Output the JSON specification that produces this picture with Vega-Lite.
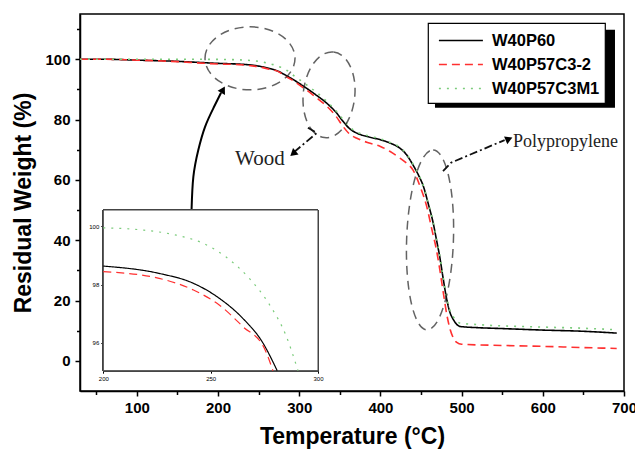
{
  "$schema": "https://vega.github.io/schema/vega-lite/v6.json",
  "width": 544,
  "height": 377,
  "autosize": {"type": "none"},
  "padding": {"left": 80, "top": 14, "right": 11, "bottom": 59},
  "background": "white",
  "config": {
    "view": {"stroke": "black", "strokeWidth": 1.5},
    "font": "Liberation Sans",
    "axis": {
      "grid": false,
      "domainColor": "black",
      "domainWidth": 1.5,
      "tickColor": "black",
      "tickWidth": 1.5,
      "labelColor": "black",
      "titleColor": "black",
      "labelFont": "Liberation Sans",
      "titleFont": "Liberation Sans"
    },
    "legend": {
      "strokeColor": "black",
      "strokeWidth": 1.2,
      "fillColor": "white"
    }
  },
  "datasets": {
    "tga": [
      {"series": "W40P60", "temp": 30, "weight": 100.0},
      {"series": "W40P60", "temp": 60, "weight": 100.0},
      {"series": "W40P60", "temp": 100, "weight": 99.7},
      {"series": "W40P60", "temp": 150, "weight": 99.3},
      {"series": "W40P60", "temp": 180, "weight": 98.9},
      {"series": "W40P60", "temp": 200, "weight": 98.63},
      {"series": "W40P60", "temp": 226, "weight": 98.38},
      {"series": "W40P60", "temp": 242, "weight": 98.04},
      {"series": "W40P60", "temp": 254, "weight": 97.53},
      {"series": "W40P60", "temp": 265, "weight": 96.84},
      {"series": "W40P60", "temp": 274, "weight": 96.04},
      {"series": "W40P60", "temp": 281, "weight": 95.05},
      {"series": "W40P60", "temp": 290, "weight": 93.7},
      {"series": "W40P60", "temp": 300, "weight": 92.0},
      {"series": "W40P60", "temp": 310, "weight": 90.2},
      {"series": "W40P60", "temp": 320, "weight": 88.3},
      {"series": "W40P60", "temp": 334, "weight": 85.4},
      {"series": "W40P60", "temp": 345, "weight": 82.5},
      {"series": "W40P60", "temp": 354, "weight": 79.4},
      {"series": "W40P60", "temp": 362, "weight": 77.0},
      {"series": "W40P60", "temp": 371, "weight": 75.5},
      {"series": "W40P60", "temp": 385, "weight": 74.3},
      {"series": "W40P60", "temp": 400, "weight": 73.3},
      {"series": "W40P60", "temp": 412, "weight": 72.2},
      {"series": "W40P60", "temp": 424, "weight": 70.5},
      {"series": "W40P60", "temp": 432, "weight": 68.4},
      {"series": "W40P60", "temp": 440, "weight": 65.0},
      {"series": "W40P60", "temp": 447, "weight": 61.5},
      {"series": "W40P60", "temp": 453, "weight": 57.8},
      {"series": "W40P60", "temp": 459, "weight": 52.0},
      {"series": "W40P60", "temp": 465, "weight": 45.7},
      {"series": "W40P60", "temp": 469, "weight": 40.2},
      {"series": "W40P60", "temp": 473, "weight": 34.6},
      {"series": "W40P60", "temp": 477, "weight": 27.8},
      {"series": "W40P60", "temp": 481, "weight": 21.3},
      {"series": "W40P60", "temp": 485, "weight": 16.6},
      {"series": "W40P60", "temp": 490, "weight": 13.6},
      {"series": "W40P60", "temp": 494, "weight": 12.1},
      {"series": "W40P60", "temp": 498, "weight": 11.4},
      {"series": "W40P60", "temp": 520, "weight": 11.0},
      {"series": "W40P60", "temp": 550, "weight": 10.7},
      {"series": "W40P60", "temp": 600, "weight": 10.2},
      {"series": "W40P60", "temp": 650, "weight": 9.8},
      {"series": "W40P60", "temp": 691, "weight": 9.2},

      {"series": "W40P57C3-2", "temp": 30, "weight": 100.0},
      {"series": "W40P57C3-2", "temp": 60, "weight": 100.0},
      {"series": "W40P57C3-2", "temp": 100, "weight": 99.7},
      {"series": "W40P57C3-2", "temp": 150, "weight": 99.2},
      {"series": "W40P57C3-2", "temp": 180, "weight": 98.7},
      {"series": "W40P57C3-2", "temp": 200, "weight": 98.44},
      {"series": "W40P57C3-2", "temp": 226, "weight": 98.21},
      {"series": "W40P57C3-2", "temp": 242, "weight": 97.81},
      {"series": "W40P57C3-2", "temp": 254, "weight": 97.30},
      {"series": "W40P57C3-2", "temp": 265, "weight": 96.56},
      {"series": "W40P57C3-2", "temp": 275, "weight": 95.82},
      {"series": "W40P57C3-2", "temp": 279, "weight": 95.05},
      {"series": "W40P57C3-2", "temp": 290, "weight": 93.3},
      {"series": "W40P57C3-2", "temp": 300, "weight": 91.5},
      {"series": "W40P57C3-2", "temp": 310, "weight": 89.6},
      {"series": "W40P57C3-2", "temp": 320, "weight": 87.5},
      {"series": "W40P57C3-2", "temp": 334, "weight": 84.4},
      {"series": "W40P57C3-2", "temp": 345, "weight": 81.2},
      {"series": "W40P57C3-2", "temp": 354, "weight": 77.7},
      {"series": "W40P57C3-2", "temp": 362, "weight": 75.2},
      {"series": "W40P57C3-2", "temp": 371, "weight": 73.8},
      {"series": "W40P57C3-2", "temp": 385, "weight": 72.3},
      {"series": "W40P57C3-2", "temp": 400, "weight": 71.1},
      {"series": "W40P57C3-2", "temp": 412, "weight": 69.4},
      {"series": "W40P57C3-2", "temp": 424, "weight": 67.2},
      {"series": "W40P57C3-2", "temp": 432, "weight": 65.6},
      {"series": "W40P57C3-2", "temp": 440, "weight": 63.3},
      {"series": "W40P57C3-2", "temp": 450, "weight": 57.0},
      {"series": "W40P57C3-2", "temp": 457, "weight": 51.2},
      {"series": "W40P57C3-2", "temp": 463, "weight": 44.0},
      {"series": "W40P57C3-2", "temp": 469, "weight": 36.8},
      {"series": "W40P57C3-2", "temp": 473, "weight": 30.5},
      {"series": "W40P57C3-2", "temp": 477.5, "weight": 22.5},
      {"series": "W40P57C3-2", "temp": 482, "weight": 15.0},
      {"series": "W40P57C3-2", "temp": 486, "weight": 10.3},
      {"series": "W40P57C3-2", "temp": 490, "weight": 7.5},
      {"series": "W40P57C3-2", "temp": 494, "weight": 6.1},
      {"series": "W40P57C3-2", "temp": 500, "weight": 5.5},
      {"series": "W40P57C3-2", "temp": 550, "weight": 5.1},
      {"series": "W40P57C3-2", "temp": 600, "weight": 4.8},
      {"series": "W40P57C3-2", "temp": 650, "weight": 4.4},
      {"series": "W40P57C3-2", "temp": 691, "weight": 4.1},

      {"series": "W40P57C3M1", "temp": 30, "weight": 100.0},
      {"series": "W40P57C3M1", "temp": 60, "weight": 100.0},
      {"series": "W40P57C3M1", "temp": 100, "weight": 100.0},
      {"series": "W40P57C3M1", "temp": 150, "weight": 100.0},
      {"series": "W40P57C3M1", "temp": 200, "weight": 99.94},
      {"series": "W40P57C3M1", "temp": 219, "weight": 99.86},
      {"series": "W40P57C3M1", "temp": 234, "weight": 99.69},
      {"series": "W40P57C3M1", "temp": 246.5, "weight": 99.41},
      {"series": "W40P57C3M1", "temp": 257, "weight": 98.95},
      {"series": "W40P57C3M1", "temp": 268, "weight": 98.21},
      {"series": "W40P57C3M1", "temp": 277.5, "weight": 97.30},
      {"series": "W40P57C3M1", "temp": 285, "weight": 96.27},
      {"series": "W40P57C3M1", "temp": 290.7, "weight": 95.05},
      {"series": "W40P57C3M1", "temp": 300, "weight": 93.3},
      {"series": "W40P57C3M1", "temp": 310, "weight": 91.3},
      {"series": "W40P57C3M1", "temp": 320, "weight": 89.3},
      {"series": "W40P57C3M1", "temp": 334, "weight": 86.0},
      {"series": "W40P57C3M1", "temp": 345, "weight": 83.0},
      {"series": "W40P57C3M1", "temp": 354, "weight": 80.0},
      {"series": "W40P57C3M1", "temp": 362, "weight": 77.5},
      {"series": "W40P57C3M1", "temp": 371, "weight": 75.9},
      {"series": "W40P57C3M1", "temp": 385, "weight": 74.6},
      {"series": "W40P57C3M1", "temp": 400, "weight": 73.6},
      {"series": "W40P57C3M1", "temp": 412, "weight": 72.4},
      {"series": "W40P57C3M1", "temp": 424, "weight": 70.8},
      {"series": "W40P57C3M1", "temp": 432, "weight": 68.6},
      {"series": "W40P57C3M1", "temp": 440, "weight": 65.3},
      {"series": "W40P57C3M1", "temp": 447, "weight": 61.8},
      {"series": "W40P57C3M1", "temp": 453, "weight": 58.0},
      {"series": "W40P57C3M1", "temp": 459, "weight": 52.2},
      {"series": "W40P57C3M1", "temp": 465, "weight": 46.0},
      {"series": "W40P57C3M1", "temp": 469, "weight": 40.5},
      {"series": "W40P57C3M1", "temp": 473, "weight": 35.0},
      {"series": "W40P57C3M1", "temp": 477, "weight": 28.2},
      {"series": "W40P57C3M1", "temp": 481, "weight": 22.0},
      {"series": "W40P57C3M1", "temp": 485, "weight": 17.2},
      {"series": "W40P57C3M1", "temp": 490, "weight": 14.5},
      {"series": "W40P57C3M1", "temp": 494, "weight": 13.2},
      {"series": "W40P57C3M1", "temp": 498, "weight": 12.5},
      {"series": "W40P57C3M1", "temp": 520, "weight": 12.0},
      {"series": "W40P57C3M1", "temp": 550, "weight": 11.6},
      {"series": "W40P57C3M1", "temp": 600, "weight": 11.2},
      {"series": "W40P57C3M1", "temp": 650, "weight": 10.8},
      {"series": "W40P57C3M1", "temp": 691, "weight": 10.3}
    ],
    "regions": [
      {"region": "plateau", "temp": 239.4, "weight": 100.3},
      {"region": "wood", "temp": 336.7, "weight": 88.2},
      {"region": "pp", "temp": 461.1, "weight": 40.1}
    ],
    "arrows": [
      {"arrow": "zoom", "step": 1, "temp": 167.4, "weight": 50.1},
      {"arrow": "zoom", "step": 2, "temp": 169.6, "weight": 61.0},
      {"arrow": "zoom", "step": 3, "temp": 175.7, "weight": 69.9},
      {"arrow": "zoom", "step": 4, "temp": 184.0, "weight": 77.6},
      {"arrow": "zoom", "step": 5, "temp": 194.5, "weight": 83.9},
      {"arrow": "zoom", "step": 6, "temp": 203.7, "weight": 88.9},
      {"arrow": "wood", "step": 1, "temp": 310.7, "weight": 77.3},
      {"arrow": "wood", "step": 2, "temp": 321.8, "weight": 75.6},
      {"arrow": "wood", "step": 3, "temp": 294.5, "weight": 69.4},
      {"arrow": "pp", "step": 1, "temp": 477.1, "weight": 62.9},
      {"arrow": "pp", "step": 2, "temp": 487.0, "weight": 65.7},
      {"arrow": "pp", "step": 3, "temp": 553.0, "weight": 73.2}
    ],
    "heads": [
      {"arrow": "zoom", "temp": 206.2, "weight": 89.9},
      {"arrow": "wood", "temp": 292.4, "weight": 68.7},
      {"arrow": "pp", "temp": 558.4, "weight": 73.6}
    ],
    "notes": [
      {"note": "Wood", "temp": 221, "weight": 67.0},
      {"note": "Polypropylene", "temp": 563.3, "weight": 72.7}
    ]
  },
  "layer": [
    {
      "layer": [
        {
          "data": {"values": [{}]},
          "mark": {"type": "rect", "color": "black"},
          "encoding": {
            "x": {"datum": 467.2, "type": "quantitative", "axis": null},
            "x2": {"datum": 688.9},
            "y": {"datum": 109.8, "type": "quantitative", "axis": null},
            "y2": {"datum": 83.9}
          }
        },
        {
          "data": {"name": "tga"},
          "mark": {"type": "line", "interpolate": "monotone", "strokeWidth": 1.6},
          "encoding": {
            "x": {
              "field": "temp", "type": "quantitative",
              "scale": {"domain": [30, 700], "nice": false, "zero": false},
              "axis": {
                "values": [100, 200, 300, 400, 500, 600, 700],
                "tickSize": 5, "labelFontSize": 15, "labelFontWeight": "bold",
                "labelPadding": 4, "labelFlush": false,
                "title": "Temperature (°C)", "titleFontSize": 23,
                "titleFontWeight": "bold", "titlePadding": 10
              }
            },
            "y": {
              "field": "weight", "type": "quantitative",
              "scale": {"domain": [-10, 115], "nice": false, "zero": false},
              "axis": {
                "values": [0, 20, 40, 60, 80, 100],
                "tickSize": 5, "labelFontSize": 15, "labelFontWeight": "bold",
                "labelPadding": 5, "labelFlush": false,
                "title": "Residual Weight (%)", "titleFontSize": 23,
                "titleFontWeight": "bold", "titlePadding": 9
              }
            },
            "color": {
              "field": "series", "type": "nominal",
              "scale": {
                "domain": ["W40P60", "W40P57C3-2", "W40P57C3M1"],
                "range": ["#000000", "#ff3030", "#7ccc7c"]
              },
              "legend": {
                "title": null, "orient": "none", "legendX": 348, "legendY": 9,
                "padding": 5.5, "symbolType": "M-0.6,0L3.4,0", "symbolSize": 484,
                "symbolStrokeWidth": 1.6, "labelFontSize": 16.5,
                "labelFontWeight": "bold", "labelColor": "black",
                "labelOffset": 34.5, "rowPadding": 3
              }
            },
            "strokeDash": {
              "field": "series", "type": "nominal",
              "scale": {
                "domain": ["W40P60", "W40P57C3-2", "W40P57C3M1"],
                "range": [[1, 0], [8, 5], [2, 6]]
              },
              "legend": {
                "title": null, "orient": "none", "legendX": 348, "legendY": 9,
                "padding": 5.5, "symbolType": "M-0.6,0L3.4,0", "symbolSize": 484,
                "symbolStrokeWidth": 1.6, "labelFontSize": 16.5,
                "labelFontWeight": "bold", "labelColor": "black",
                "labelOffset": 34.5, "rowPadding": 3
              }
            }
          }
        },
        {
          "data": {"name": "regions"},
          "transform": [{"filter": "datum.region === 'plateau'"}],
          "mark": {
            "type": "point", "filled": false, "stroke": "#222222",
            "strokeWidth": 1.5, "strokeDash": [9, 6], "size": 8100,
            "shape": "M-1,0A1,0.7,0,1,1,1,0A1,0.7,0,1,1,-1,0Z"
          },
          "encoding": {
            "x": {
              "field": "temp", "type": "quantitative",
              "axis": {
                "values": [50, 150, 250, 350, 450, 550, 650],
                "orient": "bottom", "labels": false, "domain": false,
                "tickSize": 3.5, "title": null
              }
            },
            "y": {
              "field": "weight", "type": "quantitative",
              "axis": {
                "values": [10, 30, 50, 70, 90, 110],
                "orient": "left", "labels": false, "domain": false,
                "tickSize": 3.5, "title": null
              }
            }
          }
        },
        {
          "data": {"name": "regions"},
          "transform": [{"filter": "datum.region === 'wood'"}],
          "mark": {
            "type": "point", "filled": false, "stroke": "#222222",
            "strokeWidth": 1.5, "strokeDash": [9, 6], "size": 7396, "angle": 6,
            "shape": "M0,-1A0.6,1,0,1,1,0,1A0.6,1,0,1,1,0,-1Z"
          },
          "encoding": {
            "x": {"field": "temp", "type": "quantitative", "axis": null},
            "y": {"field": "weight", "type": "quantitative", "axis": null}
          }
        },
        {
          "data": {"name": "regions"},
          "transform": [{"filter": "datum.region === 'pp'"}],
          "mark": {
            "type": "point", "filled": false, "stroke": "#222222",
            "strokeWidth": 1.5, "strokeDash": [9, 6], "size": 32400, "angle": 2,
            "shape": "M0,-1A0.26,1,0,1,1,0,1A0.26,1,0,1,1,0,-1Z"
          },
          "encoding": {
            "x": {"field": "temp", "type": "quantitative", "axis": null},
            "y": {"field": "weight", "type": "quantitative", "axis": null}
          }
        },
        {
          "data": {"name": "arrows"},
          "transform": [{"filter": "datum.arrow === 'zoom'"}],
          "mark": {"type": "line", "interpolate": "natural", "stroke": "black", "strokeWidth": 2},
          "encoding": {
            "x": {"field": "temp", "type": "quantitative", "axis": null},
            "y": {"field": "weight", "type": "quantitative", "axis": null},
            "order": {"field": "step"}
          }
        },
        {
          "data": {"name": "arrows"},
          "transform": [{"filter": "datum.arrow !== 'zoom'"}],
          "mark": {"type": "line", "stroke": "#111111", "strokeWidth": 1.8, "strokeDash": [8, 3, 2, 3]},
          "encoding": {
            "x": {"field": "temp", "type": "quantitative", "axis": null},
            "y": {"field": "weight", "type": "quantitative", "axis": null},
            "detail": {"field": "arrow"},
            "order": {"field": "step"}
          }
        },
        {
          "data": {"name": "heads"},
          "transform": [{"filter": "datum.arrow === 'zoom'"}],
          "mark": {"type": "point", "shape": "triangle-up", "filled": true, "color": "black", "opacity": 1, "size": 70, "angle": 29},
          "encoding": {
            "x": {"field": "temp", "type": "quantitative", "axis": null},
            "y": {"field": "weight", "type": "quantitative", "axis": null}
          }
        },
        {
          "data": {"name": "heads"},
          "transform": [{"filter": "datum.arrow === 'wood'"}],
          "mark": {"type": "point", "shape": "triangle-up", "filled": true, "color": "black", "opacity": 1, "size": 70, "angle": 229},
          "encoding": {
            "x": {"field": "temp", "type": "quantitative", "axis": null},
            "y": {"field": "weight", "type": "quantitative", "axis": null}
          }
        },
        {
          "data": {"name": "heads"},
          "transform": [{"filter": "datum.arrow === 'pp'"}],
          "mark": {"type": "point", "shape": "triangle-up", "filled": true, "color": "black", "opacity": 1, "size": 70, "angle": 67},
          "encoding": {
            "x": {"field": "temp", "type": "quantitative", "axis": null},
            "y": {"field": "weight", "type": "quantitative", "axis": null}
          }
        },
        {
          "data": {"name": "notes"},
          "transform": [{"filter": "datum.note === 'Wood'"}],
          "mark": {"type": "text", "font": "Liberation Serif", "fontSize": 21, "align": "left", "baseline": "middle", "color": "#222222"},
          "encoding": {
            "x": {"field": "temp", "type": "quantitative", "axis": null},
            "y": {"field": "weight", "type": "quantitative", "axis": null},
            "text": {"field": "note"}
          }
        },
        {
          "data": {"name": "notes"},
          "transform": [{"filter": "datum.note !== 'Wood'"}],
          "mark": {"type": "text", "font": "Liberation Serif", "fontSize": 18, "align": "left", "baseline": "middle", "color": "#222222"},
          "encoding": {
            "x": {"field": "temp", "type": "quantitative", "axis": null},
            "y": {"field": "weight", "type": "quantitative", "axis": null},
            "text": {"field": "note"}
          }
        }
      ],
      "resolve": {"axis": {"x": "independent", "y": "independent"}}
    },
    {
      "data": {"name": "tga"},
      "transform": [{"filter": "datum.temp >= 200 && datum.weight >= 95.04"}],
      "layer": [
        {
          "mark": {"type": "rect", "fill": "white", "stroke": "#444444", "strokeWidth": 1},
          "encoding": {
            "x": {"datum": 200, "type": "quantitative"},
            "x2": {"datum": 300},
            "y": {"datum": 95.05, "type": "quantitative"},
            "y2": {"datum": 100.55}
          }
        },
        {
          "mark": {"type": "line", "interpolate": "monotone", "strokeWidth": 1.2},
          "encoding": {
            "x": {
              "field": "temp", "type": "quantitative",
              "scale": {"domain": [200, 300], "range": [23.3, 238], "nice": false, "zero": false},
              "axis": {
                "orient": "bottom", "offset": -20.3, "values": [200, 250, 300],
                "format": "d",
                "tickSize": 2.5, "tickWidth": 1, "domainWidth": 1, "domainColor": "#444444",
                "labelFontSize": 6, "labelPadding": 2, "labelFlush": false, "title": null
              }
            },
            "y": {
              "field": "weight", "type": "quantitative",
              "scale": {"domain": [95.05, 100.55], "range": [356.7, 196], "nice": false, "zero": false},
              "axis": {
                "orient": "left", "offset": -23.3, "values": [96, 98, 100],
                "format": "d",
                "tickSize": 2.5, "tickWidth": 1, "domainWidth": 1, "domainColor": "#444444",
                "labelFontSize": 6, "labelPadding": 2, "labelFlush": false, "title": null
              }
            },
            "color": {
              "field": "series", "type": "nominal",
              "scale": {
                "domain": ["W40P60", "W40P57C3-2", "W40P57C3M1"],
                "range": ["#000000", "#ff3030", "#7ccc7c"]
              }
            },
            "strokeDash": {
              "field": "series", "type": "nominal",
              "scale": {
                "domain": ["W40P60", "W40P57C3-2", "W40P57C3M1"],
                "range": [[1, 0], [6, 4], [2, 5]]
              }
            }
          }
        }
      ]
    }
  ],
  "resolve": {"scale": {"x": "independent", "y": "independent"}}
}
